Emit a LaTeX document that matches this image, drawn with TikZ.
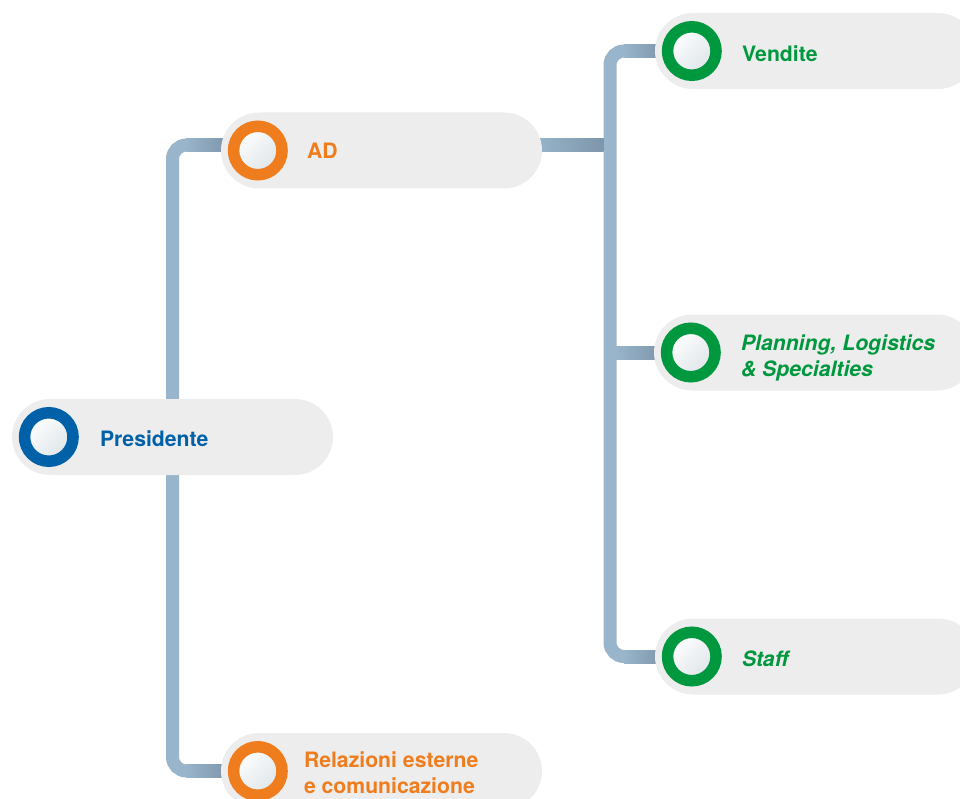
\documentclass[tikz,border=0pt]{standalone}
\usepackage{fontspec}
\setmainfont{TeX Gyre Heros}
\usepackage{tikz}
\usetikzlibrary{positioning,backgrounds}
\definecolor{pillbg}{HTML}{EDEDED}
\definecolor{link}{HTML}{98B5CB}
\definecolor{linkdark}{HTML}{7E95AB}
\definecolor{boss}{HTML}{0061A9}
\definecolor{staffo}{HTML}{EF7D1D}
\definecolor{unit}{HTML}{00983F}
\definecolor{pearl}{HTML}{DDE4E8}
\tikzset{
  pill/.style={fill=pillbg, rounded corners=38pt, minimum width=321pt, minimum height=76pt, inner sep=0pt},
  ring/.style={circle, draw=#1, line width=11.5pt, minimum size=48.5pt, inner sep=0pt,
    top color=white, bottom color=pearl, shading angle=45},
  lab/.style={text=#1, font=\fontsize{21.2}{26}\selectfont\bfseries, align=left, inner sep=0pt},
  labit/.style={lab=#1, font=\fontsize{21.2}{26}\selectfont\bfseries\itshape},
  wire/.style={draw=link, line width=13pt, rounded corners=14pt},
  stubshade/.style={left color=link, right color=linkdark},
}

\begin{document}
\begin{tikzpicture}[x=1pt,y=-1pt]
  \clip (0,0) rectangle (960,799);
  % boxes
  \node[pill] (pres) at (172.5,437) {};
  \node[pill] (ad) at (381.5,150.5) {};
  \node[pill] (rel) at (381.5,771) {};
  \node[pill] (vend) at (815.5,51) {};
  \node[pill] (plan) at (814.5,352.5) {};
  \node[pill] (staff) at (815.5,656.5) {};
  % rings
  \node[ring=boss] (pres-ring) at ([xshift=37pt]pres.west) {};
  \node[ring=staffo] (ad-ring) at ([xshift=37pt]ad.west) {};
  \node[ring=staffo] (rel-ring) at ([xshift=37pt]rel.west) {};
  \node[ring=unit] (vend-ring) at ([xshift=37pt]vend.west) {};
  \node[ring=unit] (plan-ring) at ([xshift=37pt]plan.west) {};
  \node[ring=unit] (staff-ring) at ([xshift=37pt]staff.west) {};
  % names
  \node[lab=boss, right=21pt of pres-ring, yshift=-2pt] (pres-lab) {Presidente};
  \node[lab=staffo, right=19pt of ad-ring] (ad-lab) {AD};
  \node[lab=staffo, right=16pt of rel-ring, yshift=-2pt] (rel-lab) {Relazioni esterne\\e comunicazione};
  \node[lab=unit, right=20pt of vend-ring, yshift=-2.5pt] (vend-lab) {Vendite};
  \node[labit=unit, right=20pt of plan-ring, yshift=-5pt] (plan-lab) {Planning, Logistics\\\& Specialties};
  \node[labit=unit, right=20pt of staff-ring, yshift=-2pt] (staff-lab) {Staff};
  % connectors
  \coordinate (ad-in) at ([yshift=5.5pt]ad.west);
  \coordinate (ad-out) at ([yshift=5.5pt]ad.east);
  \coordinate (hub) at (610,145);
  \begin{scope}[on background layer]
    \draw[wire] ([xshift=8pt]ad-in) -| (pres.center) |- ([xshift=8pt]rel.west);
    \draw[wire] ([xshift=-8pt]ad-out) -- (hub);
    \draw[wire] ([xshift=8pt]vend.west) -| (hub) |- ([xshift=8pt]staff.west);
    \draw[wire] (hub |- plan.west) -- ([xshift=8pt]plan.west);
    % darker ends
    \shade[stubshade] ([xshift=-35pt,yshift=-6.5pt]ad-in) rectangle ([xshift=8pt,yshift=6.5pt]ad-in);
    \shade[stubshade] ([xshift=-35pt,yshift=-6.5pt]rel.west) rectangle ([xshift=8pt,yshift=6.5pt]rel.west);
    \shade[stubshade] ([xshift=-8pt,yshift=-6.5pt]ad-out) rectangle ([xshift=61.5pt,yshift=6.5pt]ad-out);
    \shade[stubshade] ([xshift=-31pt,yshift=-6.5pt]vend.west) rectangle ([xshift=8pt,yshift=6.5pt]vend.west);
    \shade[stubshade] ([xshift=-38pt,yshift=-6.5pt]plan.west) rectangle ([xshift=8pt,yshift=6.5pt]plan.west);
    \shade[stubshade] ([xshift=-31pt,yshift=-6.5pt]staff.west) rectangle ([xshift=8pt,yshift=6.5pt]staff.west);
  \end{scope}
\end{tikzpicture}
\end{document}
